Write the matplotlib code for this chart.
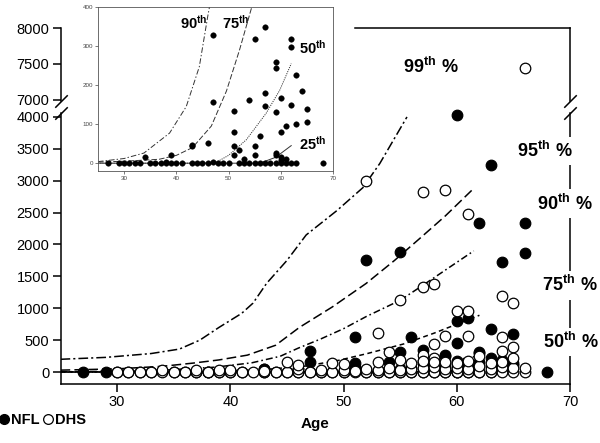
import numpy as np
import matplotlib
matplotlib.use('Agg')
import matplotlib.pyplot as plt
from matplotlib.lines import Line2D

plt.rcParams['font.family'] = ['Liberation Sans', 'DejaVu Sans']
plt.rcParams['mathtext.fontset'] = 'custom'
plt.rcParams['mathtext.bf'] = 'Liberation Sans:bold'
plt.rcParams['mathtext.rm'] = 'Liberation Sans'
plt.rcParams['lines.scale_dashes'] = False

# NFL players (filled) - age, value
nfl_age = [27, 29, 30, 31, 32, 33, 34, 35, 36, 37, 38, 38, 39, 39, 40, 41,
           43, 43, 43, 44, 45, 46, 46, 47, 47, 47, 48, 49, 50,
           51, 51, 51, 51, 51, 52, 52, 52, 53, 53, 54, 54,
           55, 55, 55, 55, 55, 56, 56, 56, 57, 57, 57, 57, 58,
           59, 59, 59, 59, 59, 59, 60, 60, 60, 60, 60, 60, 60, 60,
           61, 61, 61, 61, 62, 62, 62, 62, 62, 63, 63, 63, 63, 63,
           64, 64, 65, 65, 65, 66, 66, 68]
nfl_val = [0, 0, 0, 0, 0, 0, 17, 0, 0, 0, 3, 0, 20, 0, 0, 0,
           47, 43, 0, 0, 0, 51, 0, 328, 156, 3, 0, 0, 0,
           550, 134, 79, 43, 21, 1750, 34, 0, 10, 0, 162, 0,
           1890, 317, 45, 21, 0, 550, 70, 0, 349, 180, 147, 0, 0,
           260, 244, 132, 25, 21, 0, 4030, 800, 450, 166, 81, 17, 8, 0,
           840, 94, 10, 0, 2330, 317, 298, 150, 0, 3250, 680, 225, 100, 0,
           1730, 185, 590, 139, 105, 2340, 1860, 0]

# DHS controls (open)
dhs_age = list(range(30, 67)) + [
    34, 37, 39, 40, 43, 46, 48, 50, 51, 52, 53, 54, 55, 56, 57, 58, 59, 60, 61, 62, 63, 64, 65, 66,
    45, 46, 49, 50, 53, 54, 55, 56, 57, 57, 58, 58, 59, 60, 61, 62, 63, 64, 64, 65, 65,
    52, 53, 55, 57, 57, 58, 58, 59, 59, 60, 61, 61, 61, 64, 64, 65, 66]
dhs_val = [0] * 37 + [
    30, 25, 30, 30, 20, 40, 25, 35, 20, 40, 30, 60, 30, 50, 60, 80, 40, 60, 50, 90, 40, 80, 60, 60,
    160, 110, 140, 120, 150, 310, 190, 140, 270, 180, 220, 150, 160, 140, 180, 250, 140, 330, 150, 400, 220,
    3000, 610, 1125, 1330, 2830, 1375, 440, 570, 2860, 950, 950, 560, 2480, 1190, 550, 1080, 7450]

# percentile curves
p99_age = [25, 29, 33, 35.5, 37.3, 39, 41, 42, 43.2, 45, 46.7, 49.4, 51.7, 53.2, 55.6]
p99_val = [200, 230, 290, 360, 500, 700, 920, 1080, 1390, 1750, 2150, 2530, 2890, 3270, 4000]
p95_age = [25, 30, 34, 36.7, 39, 41.5, 44, 46.1, 49, 52, 54.5, 56.7, 59, 61.5]
p95_val = [30, 50, 90, 140, 190, 265, 420, 700, 1020, 1390, 1750, 2090, 2450, 2880]
p90_age = [25, 30, 33.8, 38.7, 41.9, 44.4, 46, 48, 50, 52, 55, 57, 59, 61.5]
p90_val = [4, 12, 26, 77, 145, 247, 375, 520, 680, 870, 1125, 1360, 1600, 1900]
p75_age = [25, 30, 36.7, 40, 43.1, 46.7, 49.6, 52.1, 55.3, 58, 60, 62]
p75_val = [3, 5, 10, 20, 40, 95, 185, 290, 440, 610, 750, 890]
p50_age = [25, 35, 45, 47.6, 50, 53.4, 57.2, 59.8, 62]
p50_val = [0, 0, 0, 2, 20, 60, 128, 187, 255]
p25_age = [25, 45, 56, 59, 62]
p25_val = [0, 0, 0, 15, 45]

nfl_age = np.array(nfl_age); nfl_val = np.array(nfl_val)
dhs_age = np.array(dhs_age); dhs_val = np.array(dhs_val)

fig = plt.figure(figsize=(6, 4.43), dpi=100)
W, H = 600, 443
ax = fig.add_axes([60.5 / W, 1 - 384 / H, 509.5 / W, 271 / H])
ax_top = fig.add_axes([60.5 / W, 1 - 101 / H, 509.5 / W, 73 / H])
axin = fig.add_axes([98 / W, 1 - 171 / H, 235 / W, 164 / H])

mk = dict(marker='o', ms=7.6, mew=0.9, ls='none', mec='k')
curves = [
    (p99_age, p99_val, (0, (7, 2.2, 1.5, 2.2))),
    (p95_age, p95_val, (0, (7, 3))),
    (p90_age, p90_val, (0, (5, 2.2, 1.2, 2.2))),
    (p75_age, p75_val, (0, (3.5, 2.5))),
    (p50_age, p50_val, (0, (1, 1.5))),
    (p25_age, p25_val, '-'),
]
for a in (ax, ax_top):
    for xa, ya, ls in curves:
        a.plot(xa, ya, color='k', lw=1.1, linestyle=ls, zorder=2)

lo_n = nfl_val < 5000
lo_d = dhs_val < 5000
ax.plot(nfl_age[lo_n], nfl_val[lo_n], mfc='k', clip_on=False, zorder=3, **mk)
ax.plot(dhs_age[lo_d], dhs_val[lo_d], mfc='w', clip_on=False, zorder=4, **mk)
ax_top.plot(nfl_age[~lo_n], nfl_val[~lo_n], mfc='k', zorder=3, **mk)
ax_top.plot(dhs_age[~lo_d], dhs_val[~lo_d], mfc='w', zorder=4, **mk)

for a in (ax, ax_top):
    a.set_xlim(25, 70)
    for s in a.spines.values():
        s.set_linewidth(1.1)
    a.tick_params(direction='out', length=6, width=1.1, labelsize=10.5, pad=2)

ax.set_ylim(-187.5, 4062)
ax.set_yticks(np.arange(0, 4001, 500))
ax.set_xticks([30, 40, 50, 60, 70])
ax.spines['top'].set_visible(False)
ax.set_xlabel('Age', fontsize=11, fontweight='bold', labelpad=6)

ax_top.set_ylim(6986, 8000)
ax_top.set_yticks([7000, 7500, 8000])
ax_top.spines['bottom'].set_visible(False)
ax_top.spines['top'].set_bounds(51, 70)
ax_top.set_xticks([])

# break marks
brk = dict(marker=[(-1, -1), (1, 1)], markersize=9, ls='none', color='k', mec='k', mew=1.1, clip_on=False)
ax.plot([0, 1], [1, 1], transform=ax.transAxes, **brk)
ax_top.plot([0, 1], [0, 0], transform=ax_top.transAxes, **brk)

# percentile labels
lab = dict(fontsize=13, va='center', ha='left', zorder=5,
           bbox=dict(facecolor='white', edgecolor='none', pad=3))
ax_top.text(55.25, 7458, r'$\mathbf{99^{th}\ \%}$', **lab)
ax.text(65.3, 3470, r'$\mathbf{95^{th}\ \%}$', **lab)
ax.text(67.1, 2640, r'$\mathbf{90^{th}\ \%}$', **lab)
ax.text(67.5, 1360, r'$\mathbf{75^{th}\ \%}$', **lab)
ax.text(67.6, 470, r'$\mathbf{50^{th}\ \%}$', **lab)

# inset with NFL only
axin.set_facecolor('white')
inset_styles = [(0, (4, 1.5, 1, 1.5)), (0, (4, 1.5)), (0, (0.8, 0.8)), '-']
for (xa, ya, _), ils in zip(curves[2:], inset_styles):
    axin.plot(xa, ya, color='#333333', lw=0.7, linestyle=ils)
axin.plot(nfl_age, nfl_val, marker='o', ms=4, ls='none', mfc='k', mec='k', mew=0.3)
axin.set_xlim(25, 70)
axin.set_ylim(-20, 400)
axin.set_xticks([30, 40, 50, 60, 70])
axin.set_yticks([0, 100, 200, 300, 400])
axin.tick_params(direction='out', length=2, width=0.5, labelsize=4.5, pad=1.5, colors='#444444')
for s in axin.spines.values():
    s.set_linewidth(0.6)
    s.set_color('#555555')
inl = dict(fontsize=10.5, va='center', ha='left')
axin.text(40.7, 359, r'$\mathbf{90^{th}}$', **inl)
axin.text(48.7, 359, r'$\mathbf{75^{th}}$', **inl)
axin.text(63.5, 295, r'$\mathbf{50^{th}}$', **inl)
axin.text(63.5, 51, r'$\mathbf{25^{th}}$', **inl)

# legend
handles = [Line2D([], [], marker='o', ls='none', mfc='k', mec='k', ms=7),
           Line2D([], [], marker='o', ls='none', mfc='w', mec='k', ms=7, mew=0.9)]
fig.legend(handles, ['NFL', 'DHS'], ncol=2, loc='center left',
           bbox_to_anchor=(0.0, 1 - 420 / H), frameon=False, handlelength=0.6,
           handletextpad=0.15, columnspacing=0.3, borderpad=0, borderaxespad=0,
           prop={'weight': 'bold', 'size': 10.5})

fig.savefig('out.png', dpi=100)
